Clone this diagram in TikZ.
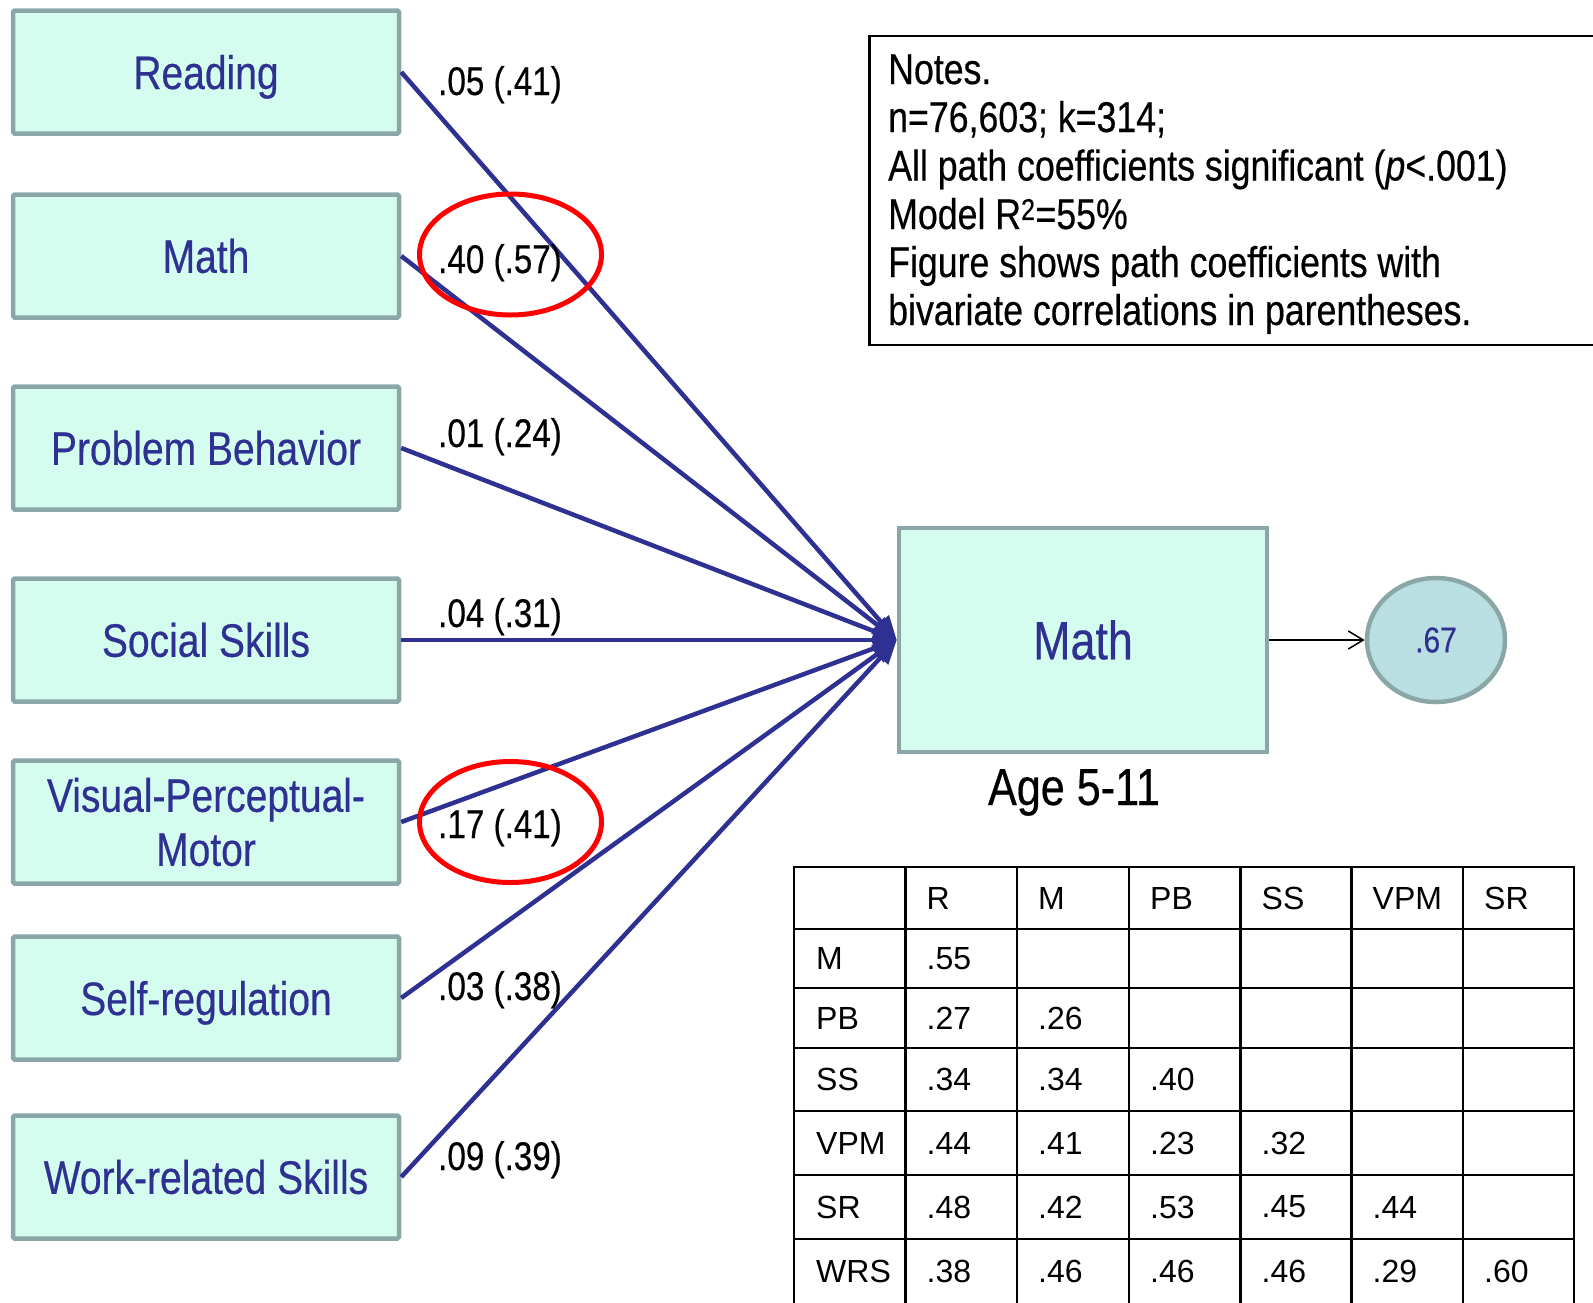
\documentclass[tikz,border=0pt]{standalone}
\usepackage{fontspec}
\setmainfont{Liberation Sans}[FakeStretch=0.83,FakeBold=0.4]
\newfontfamily\tablefont{Liberation Sans}
\usetikzlibrary{arrows.meta,shapes.geometric}

\definecolor{navy}{RGB}{46,49,146}
\definecolor{boxline}{RGB}{138,166,166}
\definecolor{boxfill}{RGB}{213,253,239}
\definecolor{ovalfill}{RGB}{185,223,226}
\definecolor{markred}{RGB}{255,0,0}

% drop the descender depth so a label centres on its capitals
\newcommand{\nodepth}[1]{\raisebox{0pt}[\height][0pt]{#1}}

\begin{document}
\begin{tikzpicture}[x=1pt,y=-1pt,
  varbox/.style={draw=boxline, line width=4.5pt, fill=boxfill, rounded corners=1.5pt,
    minimum width=386pt, minimum height=123pt, inner sep=0pt, text=navy,
    font=\fontsize{47}{54}\selectfont, align=center},
  pathline/.style={draw=navy, line width=4.5pt, -{Triangle[length=24pt,width=20pt]}},
  coef/.style={anchor=base west, inner sep=0pt, font=\fontsize{40}{46}\selectfont},
  hilite/.style={ellipse, draw=markred, line width=5pt, minimum width=182pt,
    minimum height=121pt, inner sep=0pt},
  noteline/.style={anchor=base west, inner sep=0pt, font=\fontsize{43}{48}\selectfont},
  cell/.style={anchor=west, inner sep=0pt, font=\tablefont\fontsize{32}{36}\selectfont},
  grid/.style={draw=black, line width=2.2pt}
]
\useasboundingbox (0,0) rectangle (1593,1302);

% predictor boxes
\node[varbox] (read) at (206,72)   {\nodepth{Reading}};
\node[varbox] (math) at (206,256)  {Math};
\node[varbox] (prob) at (206,448)  {Problem Behavior};
\node[varbox] (soc)  at (206,640)  {Social Skills};
\node[varbox] (vpm)  at (206,822)  {Visual-Perceptual-\\Motor};
\node[varbox] (self) at (206,998)  {\nodepth{Self-regulation}};
\node[varbox] (work) at (206,1177) {Work-related Skills};

% outcome and residual
\node[draw=boxline, line width=4.5pt, fill=boxfill, minimum width=368pt,
  minimum height=224pt, inner sep=0pt, text=navy,
  font=\fontsize{54}{60}\selectfont] (out) at (1083,640) {Math};
\node[ellipse, draw=boxline, line width=4.5pt, fill=ovalfill, minimum width=138pt,
  minimum height=124pt, inner sep=0pt, text=navy,
  font=\fontsize{36}{40}\selectfont] (res) at (1436,640) {.67};
\draw[line width=1.5pt, -{Straight Barb[length=15pt,width=18pt]}] (out.east) -- (res.west);

\node[anchor=base, inner sep=0pt, font=\fontsize{52}{58}\selectfont] (age) at (1074,805) {Age 5-11};

% paths into the outcome
\foreach \src in {read,math,prob,soc,vpm,self,work}
  \draw[pathline] (\src.east) -- (out.west);

% path coefficients
\node[coef] (c1) at (438,95)   {.05 (.41)};
\node[coef] (c2) at (438,273)  {.40 (.57)};
\node[coef] (c3) at (438,447)  {.01 (.24)};
\node[coef] (c4) at (438,627)  {.04 (.31)};
\node[coef] (c5) at (438,838)  {.17 (.41)};
\node[coef] (c6) at (438,1000) {.03 (.38)};
\node[coef] (c7) at (438,1170) {.09 (.39)};

% highlighted coefficients
\node[hilite] (h1) at (510.5,254.5) {};
\node[hilite] (h2) at (510.5,822) {};

% notes
\draw[line width=2.2pt] (869.5,36) rectangle (1610,345);
\node[noteline] (n1) at (888,84)    {Notes.};
\node[noteline] (n2) at (888,132)   {n=76,603; k=314;};
\node[noteline] (n3) at (888,180.5) {All path coefficients significant (\textit{p}<.001)};
\node[noteline] (n4) at (888,229)   {Model R\textsuperscript{2}=55\%};
\node[noteline] (n5) at (888,277)   {Figure shows path coefficients with};
\node[noteline] (n6) at (888,325)   {bivariate correlations in parentheses.};

% correlation table
\foreach \x in {794,905.5,1017,1129,1240.5,1351.5,1463,1574}
  \draw[grid] (\x,866) -- (\x,1306);
\foreach \y in {867,929,988,1048,1111,1175,1239}
  \draw[grid] (792.9,\y) -- (1575.1,\y);

\def\colx{{794,905.5,1017,1129,1240.5,1351.5,1463}}
\def\rowy{{898,958.5,1018,1079.5,1143,1207,1271}}
\foreach \t [count=\c from 1] in {R,M,PB,SS,VPM,SR}
  \node[cell] (h-\c) at ({\colx[\c]+21},898) {\t};
\foreach \t [count=\r from 1] in {M,PB,SS,VPM,SR,WRS}
  \node[cell] (r-\r) at (816,{\rowy[\r]}) {\t};

\node[cell] (v-1-1) at (926.5,958.5) {.55};
\foreach \t [count=\c from 1] in {.27,.26}
  \node[cell] (v-2-\c) at ({\colx[\c]+21},1018) {\t};
\foreach \t [count=\c from 1] in {.34,.34,.40}
  \node[cell] (v-3-\c) at ({\colx[\c]+21},1079.5) {\t};
\foreach \t [count=\c from 1] in {.44,.41,.23,.32}
  \node[cell] (v-4-\c) at ({\colx[\c]+21},1143) {\t};
\foreach \t [count=\c from 1] in {.48,.42,.53,.45,.44}
  \node[cell] (v-5-\c) at ({\colx[\c]+21},1207) {\t};
\foreach \t [count=\c from 1] in {.38,.46,.46,.46,.29,.60}
  \node[cell] (v-6-\c) at ({\colx[\c]+21},1271) {\t};
\end{tikzpicture}
\end{document}
